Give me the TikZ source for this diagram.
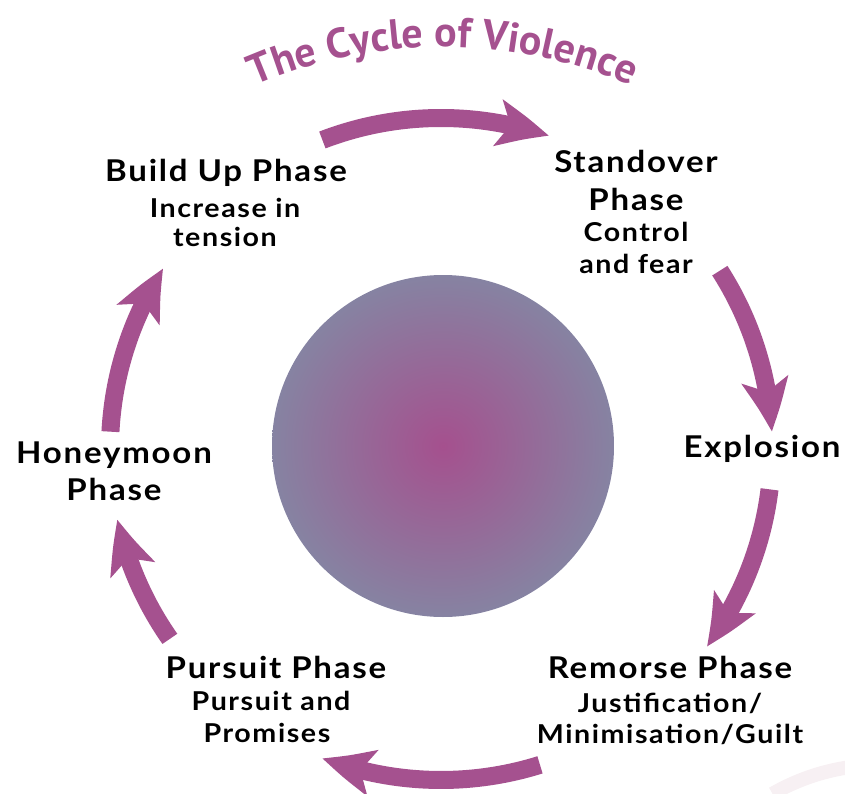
\documentclass[tikz,border=0pt]{standalone}
\usepackage{fontspec}
\setmainfont{Lato}
\newfontfamily\headfont{Lato}[FakeStretch=1.1,LetterSpace=6]
\newfontfamily\titlefont{PT Sans}
\usetikzlibrary{arrows.meta,bending,decorations.text,calc}
\definecolor{cyc}{RGB}{165,81,143}
\definecolor{ctr}{RGB}{165,80,142}
\definecolor{rim}{RGB}{134,131,162}
\definecolor{faint}{RGB}{247,240,243}
\begin{document}
\begin{tikzpicture}[x=1pt,y=-1pt,
  cycarrow/.style={draw=cyc, line width=18pt, -{Stealth[length=52pt,width=46pt,inset=12pt,bend]}},
  head/.style={font=\headfont\bfseries\fontsize{30}{30}\selectfont, anchor=base, inner sep=0pt},
  sub/.style={font=\headfont\bfseries\fontsize{26}{26}\selectfont, anchor=base, inner sep=0pt}]
\useasboundingbox (0,0) rectangle (845,794);
% faint watermark at bottom right
\begin{scope}
  \clip (0,0) rectangle (845,794);
  \draw[faint, line width=14pt] (880,980) ++(-120:215) arc[start angle=-120, end angle=-85, radius=215];
  \draw[faint, line width=7pt] (880,980) ++(-112:185) arc[start angle=-112, end angle=-85, radius=185];
\end{scope}
% central disc
\shade[inner color=ctr, outer color=rim] (443,446) circle[radius=171];
% title
\coordinate (T) at (443,520);
\path[decorate, decoration={text along path, text align=center,
  text={|\titlefont\bfseries\fontsize{42}{42}\selectfont\color{cyc}|The Cycle of Violence}}]
  ($(T)+(-122:473)$) arc[start angle=-122, end angle=-58, radius=473];
% cycle arrows
\coordinate (C) at (441,449);
\draw[cycarrow] ($(C)+(-111:331)$) arc[start angle=-111, end angle=-71, radius=331];
\draw[cycarrow] ($(C)+(-32.6:331)$) arc[start angle=-32.6, end angle=-3, radius=331];
\draw[cycarrow] ($(C)+(7:331)$) arc[start angle=7, end angle=36.6, radius=331];
\draw[cycarrow] ($(C)+(72.6:331)$) arc[start angle=72.6, end angle=111, radius=331];
\draw[cycarrow] ($(C)+(-215:331)$) arc[start angle=-215, end angle=-192.3, radius=331];
\draw[cycarrow] ($(C)+(-177:331)$) arc[start angle=-177, end angle=-147, radius=331];
% labels
\node[head] (bu1) at (226,182) {Build Up Phase};
\node[sub]  (bu2) at (225,218) {Increase in};
\node[sub]  (bu3) at (225,247) {tension};
\node[head] (so1) at (636,173) {Standover};
\node[head] (so2) at (636,211) {Phase};
\node[sub]  (so3) at (636,242) {Control};
\node[sub]  (so4) at (636,273) {and fear};
\node[head] (ex1) at (762,457) {Explosion};
\node[head] (re1) at (670,678) {Remorse Phase};
\node[sub]  (re2) at (670,712) {Justification/};
\node[sub]  (re3) at (670,743) {Minimisation/Guilt};
\node[head] (pu1) at (276,678) {Pursuit Phase};
\node[sub]  (pu2) at (271,710) {Pursuit and};
\node[sub]  (pu3) at (267,742) {Promises};
\node[head] (ho1) at (114,463) {Honeymoon};
\node[head] (ho2) at (114,500) {Phase};
\end{tikzpicture}
\end{document}
